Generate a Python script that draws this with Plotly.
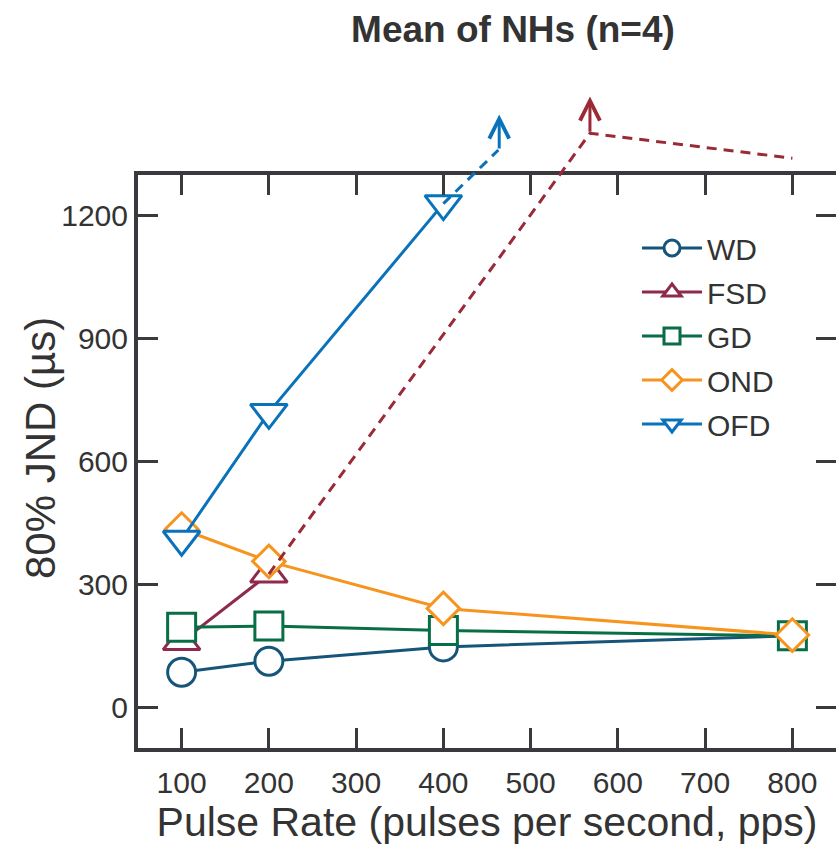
import plotly.graph_objects as go

# ---- data ----
rates = [100, 200, 400, 800]
wd = [85, 112, 147, 174]
fsd_x = [100, 200]
fsd = [160, 325]
gd = [195, 198, 187, 174]
ond = [435, 356, 241, 176]
ofd_x = [100, 200, 400]
ofd = [410, 720, 1230]

# off-scale indications (dashed) and arrow tips
fsd_ext_x = [200, 568, 800]
fsd_ext_y = [325, 1402, 1341]
fsd_arrow = (568, 1402, 1492)   # x, tail y, head y
ofd_ext_x = [400, 463]
ofd_ext_y = [1230, 1361]
ofd_arrow = (464, 1361, 1448)

x_ticks = [100, 200, 300, 400, 500, 600, 700, 800]
y_ticks = [0, 300, 600, 900, 1200]

# ---- style ----
C_WD = "#16557a"
C_FSD = "#8e2a4d"
C_FSD_EXT = "#9a2a35"
C_GD = "#086e45"
C_OND = "#f7941d"
C_OFD = "#0a72ba"
AX = "#3a3a3e"
TXT = "#333333"
FONT = "Liberation Sans, Arial, sans-serif"

W, H = 836, 849
ML, MR, MT, MB = 138, 0, 60, 101
plot_w = W - ML - MR
plot_h = H - MT - MB
frame_top_px = 175
frame_bot_px = H - MB
ydom_top = (frame_bot_px - frame_top_px) / plot_h
yr = [-100, 1300]
y2_top = yr[0] + (yr[1] - yr[0]) / ydom_top
xr = [50, 850]

fig = go.Figure()

def add(name, x, y, color, symbol, size):
    fig.add_trace(go.Scatter(
        x=x, y=y, name=name, mode="lines+markers", legendgroup=name,
        line=dict(color=color, width=3),
        marker=dict(symbol=symbol, size=size, color="white",
                    line=dict(color=color, width=3)),
        cliponaxis=False, xaxis="x", yaxis="y"))

add("WD", rates, wd, C_WD, "circle", 28)
add("FSD", fsd_x, fsd, C_FSD, "triangle-up", 32)
add("GD", rates, gd, C_GD, "square", 28)
add("OND", rates, ond, C_OND, "diamond", 25)
add("OFD", ofd_x, ofd, C_OFD, "triangle-down", 32)

# dashed off-scale lines on an invisible overlay subplot with identical scale
fig.add_trace(go.Scatter(x=fsd_ext_x, y=fsd_ext_y, mode="lines", showlegend=False,
                         line=dict(color=C_FSD_EXT, width=3, dash="10px,7px"),
                         xaxis="x2", yaxis="y2", hoverinfo="skip"))
fig.add_trace(go.Scatter(x=ofd_ext_x, y=ofd_ext_y, mode="lines", showlegend=False,
                         line=dict(color=C_OFD, width=3, dash="10px,7px"),
                         xaxis="x2", yaxis="y2", hoverinfo="skip"))

for (ax_x, tail, head), col in [(fsd_arrow, C_FSD_EXT), (ofd_arrow, C_OFD)]:
    fig.add_annotation(x=ax_x, y=head, ax=ax_x, ay=tail, xref="x2", yref="y2",
                       axref="x2", ayref="y2", text="", showarrow=True,
                       arrowhead=5, arrowsize=1.3, arrowwidth=3, arrowcolor=col)

fig.update_layout(
    width=W, height=H,
    margin=dict(l=ML, r=MR, t=MT, b=MB, pad=0),
    paper_bgcolor="white", plot_bgcolor="rgba(0,0,0,0)",
    font=dict(family=FONT, color=TXT, size=28),
    title=dict(text="<b>Mean of NHs (n=4)</b>", x=(513 - ML) / plot_w, xref="paper",
               xanchor="center", y=1 - 29 / H, yanchor="middle",
               font=dict(size=37, color=TXT, family=FONT)),
    xaxis=dict(range=xr, domain=[0, 1], anchor="y", tickvals=x_ticks,
               ticks="inside", ticklen=20, tickwidth=3, tickcolor=AX,
               showline=True, linewidth=4, linecolor=AX, mirror="ticks",
               showgrid=False, zeroline=False, ticklabelstandoff=5,
               tickfont=dict(size=30, color=TXT),
               title=dict(text="Pulse Rate (pulses per second, pps)",
                          font=dict(size=41, color=TXT), standoff=6)),
    yaxis=dict(range=yr, domain=[0, ydom_top], anchor="x", tickvals=y_ticks,
               ticks="inside", ticklen=20, tickwidth=3, tickcolor=AX,
               showline=True, linewidth=4, linecolor=AX, mirror=False,
               showgrid=False, zeroline=False,
               tickfont=dict(size=30, color=TXT)),
    yaxis3=dict(range=yr, overlaying="y", side="right", anchor="x",
                tickvals=y_ticks, ticks="inside", ticklen=20, tickwidth=3,
                tickcolor=AX, showticklabels=False, showline=False,
                showgrid=False, zeroline=False),
    xaxis2=dict(range=xr, domain=[0, 1], anchor="y2", visible=False),
    yaxis2=dict(range=[yr[0], y2_top], domain=[0, 1], anchor="x2", visible=False),
    legend=dict(x=(637 - ML) / plot_w, y=(frame_bot_px - 222) / plot_h,
                xanchor="left", yanchor="top", bgcolor="rgba(0,0,0,0)",
                font=dict(size=30, color=TXT), tracegroupgap=2,
                itemwidth=60),
    showlegend=True,
)

# invisible carrier so the right-side tick axis is rendered
fig.add_trace(go.Scatter(x=[xr[0]], y=[yr[0]], mode="markers", showlegend=False,
                         marker=dict(opacity=0), xaxis="x", yaxis="y3",
                         hoverinfo="skip"))

fig.add_annotation(text="80% JND (µs)", xref="paper", yref="paper",
                   x=-(ML - 40) / plot_w, y=(frame_bot_px - 448) / plot_h,
                   xanchor="center", yanchor="middle", textangle=-90,
                   showarrow=False, font=dict(size=42, color=TXT))

fig.write_html("out.html")
